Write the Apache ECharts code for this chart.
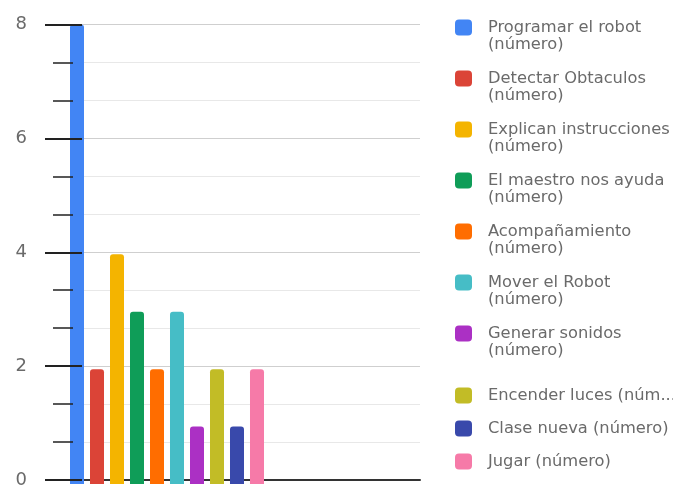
<!DOCTYPE html>
<html><head><meta charset="utf-8">
<script src="https://cdn.jsdelivr.net/npm/echarts@6/dist/echarts.min.js"></script>
<style>html,body{margin:0;padding:0;background:#fff}#c{width:673px;height:489px}</style>
</head><body><div id="c"></div>
<script>
const categories = ['Respuestas'];
const seriesNames = [
  'Programar el robot (número)',
  'Detectar Obtaculos (número)',
  'Explican instrucciones (número)',
  'El maestro nos ayuda (número)',
  'Acompañamiento (número)',
  'Mover el Robot (número)',
  'Generar sonidos (número)',
  'Encender luces (número)',
  'Clase nueva (número)',
  'Jugar (número)'
];
const values = [8, 2, 4, 3, 2, 3, 1, 2, 1, 2];
const yTicks = [0, 2, 4, 6, 8];

const palette = ['#4285f4','#db4437','#f4b400','#0f9d58','#ff6d00','#46bdc6','#ab30c4','#c2bc26','#3949ab','#f67aa8'];

const yMin = yTicks[0], yMax = yTicks[yTicks.length-1], yStep = yTicks[1]-yTicks[0];

const chart = echarts.init(document.getElementById('c'));
const series = seriesNames.map((n, i) => ({
  name: n, type: 'bar', xAxisIndex: 1, yAxisIndex: 3,
  data: [values[i]], barWidth: 14, barGap: '42.857%', barCategoryGap: 0,
  itemStyle: { color: palette[i], borderRadius: [3,3,0,0] },
  z: 2
}));
const twoLine = seriesNames.slice(0, 7);
const oneLine = seriesNames.slice(7);
const legendFont = 'DejaVu Sans', legendSize = 16.3;
const tok = { fontFamily: legendFont, fontSize: legendSize, color: '#6a6a6a', lineHeight: 17, padding: [0, 0, 0, 11] };
function fit(n) {
  const f = echarts.format && echarts.format.truncateText;
  return f ? f(n, 195, legendSize + 'px "' + legendFont + '"', '...') : n;
}
chart.setOption({
  animation: false,
  color: palette,
  grid: [
    { left: 82, right: 253, top: 24.5, bottom: 5 },
    { left: 70, width: 194, top: 24.5, bottom: 5 }
  ],
  xAxis: [
    { type: 'category', gridIndex: 0, data: categories, axisLine: { lineStyle: { color: '#333', width: 2 } }, axisTick: { show: false }, axisLabel: { show: false } },
    { type: 'category', gridIndex: 1, data: categories, show: false }
  ],
  yAxis: [
    { type: 'value', gridIndex: 0, position: 'left', min: yMin, max: yMax, interval: yStep, z: 0,
      axisLine: { show: false }, axisTick: { show: false },
      axisLabel: { margin: 55, fontFamily: 'DejaVu Sans', fontSize: 18, color: '#6a6a6a' },
      splitLine: { lineStyle: { color: '#cfcfcf', width: 1 } },
      minorTick: { show: false, splitNumber: 3 },
      minorSplitLine: { show: true, lineStyle: { color: '#e8e8e8', width: 1 } } },
    { type: 'value', gridIndex: 0, position: 'left', min: yMin, max: yMax, interval: yStep, z: 10,
      axisLine: { show: false }, axisLabel: { show: false }, splitLine: { show: false },
      axisTick: { show: true, length: 37, lineStyle: { color: '#222', width: 1.8 } } },
    { type: 'value', gridIndex: 0, position: 'left', min: yMin, max: yMax, interval: yStep, z: 10, offset: 9,
      axisLine: { show: false }, axisLabel: { show: false }, splitLine: { show: false },
      axisTick: { show: false },
      minorTick: { show: true, splitNumber: 3, length: 20, lineStyle: { color: '#222', width: 1.5 } } },
    { type: 'value', gridIndex: 1, min: yMin, max: yMax, show: false }
  ],
  legend: [
    { data: twoLine, orient: 'vertical', left: 455, top: 2.5, padding: 0, itemGap: 1,
      itemWidth: 17, itemHeight: 16, icon: 'roundRect',
      formatter: n => {
        const p = n.split(' (número)');
        return '{t| }\n{t|' + p[0] + '}\n{t|(número)}';
      },
      textStyle: { rich: { t: tok } } },
    { data: oneLine, orient: 'vertical', left: 455, top: 387.5, padding: 0, itemGap: 17,
      itemWidth: 17, itemHeight: 16, icon: 'roundRect',
      formatter: n => '{t|' + fit(n) + '}',
      textStyle: { rich: { t: tok } } }
  ],
  series: series
});
</script></body></html>
